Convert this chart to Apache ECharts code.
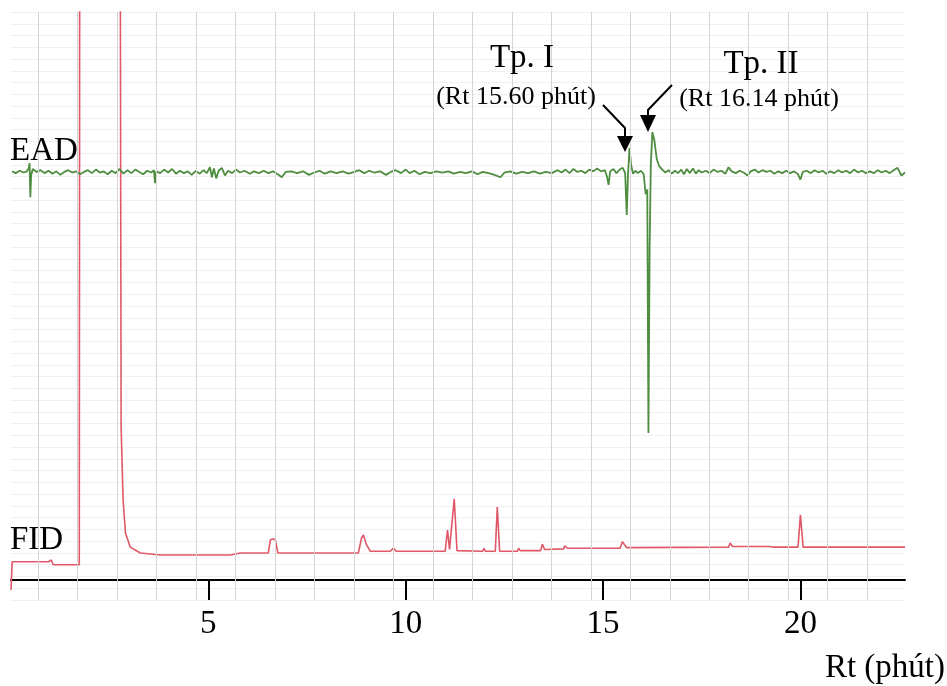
<!DOCTYPE html>
<html>
<head>
<meta charset="utf-8">
<script src="https://cdn.jsdelivr.net/npm/echarts@6/dist/echarts.min.js"></script>
<style>
html,body{margin:0;padding:0;background:#fff;}
#chart{width:947px;height:686px;}
</style>
</head>
<body>
<div id="chart"></div>
<script>
// ---- data (Rt in minutes, signal in arbitrary units) ----
const tickValues = [5, 10, 15, 20];
const axisTitle = 'Rt (phút)';
const traceNames = ['EAD', 'FID'];
const peakLabels = ['Tp. I', 'Tp. II'];
const peakRtLabels = ['(Rt 15.60 phút)', '(Rt 16.14 phút)'];

const eadTrace = [
[0.03,72.9],[0.12,72.6],[0.22,73.0],[0.32,72.7],[0.40,72.9],[0.45,73.4],[0.47,74.3],[0.49,68.5],[0.51,72.2],[0.55,73.3],
[0.65,72.8],[0.75,73.1],[0.85,72.6],[0.95,73.0],[1.05,72.5],[1.15,72.9],[1.25,72.3],[1.35,72.8],[1.45,73.1],[1.55,72.7],
[1.65,72.9],[1.75,72.4],[1.85,72.8],[1.95,73.1],[2.05,72.6],[2.15,73.2],[2.25,72.7],[2.35,72.9],[2.45,72.4],[2.55,73.0],
[2.65,72.6],[2.75,73.3],[2.85,72.5],[2.95,73.1],[3.05,72.6],[3.15,73.2],[3.25,72.8],[3.35,72.4],[3.45,73.0],[3.55,72.7],
[3.62,73.1],[3.65,70.9],[3.68,72.9],[3.78,72.6],[3.88,73.2],[3.98,72.7],[4.08,73.3],[4.18,72.5],[4.28,73.0],[4.38,72.6],
[4.48,72.9],[4.58,72.3],[4.68,73.0],[4.78,72.5],[4.88,73.1],[4.96,72.6],[5.04,73.6],[5.09,71.9],[5.14,73.4],[5.20,71.7],
[5.26,73.0],[5.34,73.5],[5.42,72.2],[5.50,73.0],[5.60,72.6],[5.70,73.2],[5.80,72.7],[5.92,73.0],[6.05,72.5],[6.15,72.9],
[6.28,72.6],[6.40,73.0],[6.52,72.6],[6.64,72.9],[6.76,72.4],[6.86,71.9],[6.96,72.8],[7.10,72.9],[7.25,72.6],[7.40,72.9],
[7.55,72.3],[7.68,72.7],[7.82,73.0],[7.95,72.5],[8.10,72.9],[8.25,72.6],[8.40,72.9],[8.55,72.5],[8.70,72.8],[8.82,73.1],
[8.95,72.6],[9.08,73.0],[9.20,72.7],[9.35,72.9],[9.50,72.3],[9.62,72.8],[9.75,73.1],[9.88,72.6],[10.00,73.2],[10.10,72.6],
[10.22,73.0],[10.35,72.4],[10.48,72.8],[10.62,72.6],[10.78,72.9],[10.92,72.7],[11.08,72.9],[11.22,72.5],[11.38,72.8],[11.52,72.6],
[11.68,72.9],[11.82,72.4],[11.95,72.8],[12.10,72.6],[12.25,72.3],[12.40,71.9],[12.50,72.7],[12.65,72.9],[12.80,72.5],[12.95,72.8],
[13.10,72.6],[13.25,72.9],[13.40,72.5],[13.55,72.8],[13.70,72.6],[13.85,73.1],[13.95,72.7],[14.05,73.2],[14.15,72.6],[14.25,73.3],
[14.35,72.8],[14.45,73.0],[14.55,72.6],[14.65,73.2],[14.75,72.9],[14.85,73.4],[14.95,72.9],[15.05,73.1],[15.10,72.0],[15.14,70.6],
[15.18,72.9],[15.26,73.3],[15.34,72.6],[15.42,73.2],[15.50,73.5],[15.56,72.6],[15.60,65.5],[15.63,72.0],[15.67,76.9],[15.71,74.0],
[15.76,72.5],[15.82,73.0],[15.88,72.6],[15.96,73.0],[16.03,72.4],[16.08,69.0],[16.12,69.8],[16.15,28.4],[16.18,60.0],[16.21,74.0],
[16.25,79.6],[16.30,78.2],[16.36,75.0],[16.42,73.8],[16.50,73.2],[16.58,72.7],[16.66,73.1],[16.74,72.5],[16.82,73.0],[16.90,72.6],
[16.98,73.2],[17.05,72.4],[17.12,73.3],[17.20,72.6],[17.28,73.4],[17.35,72.5],[17.42,73.1],[17.50,72.7],[17.60,73.0],[17.70,72.6],
[17.80,73.2],[17.90,72.8],[18.00,73.0],[18.10,72.5],[18.18,73.6],[18.26,72.9],[18.36,72.6],[18.46,73.0],[18.56,72.7],[18.66,72.2],
[18.74,72.9],[18.84,73.2],[18.94,72.7],[19.04,73.1],[19.14,72.8],[19.24,73.0],[19.34,72.5],[19.44,72.9],[19.54,72.6],[19.64,73.0],
[19.74,72.6],[19.84,72.9],[19.94,72.4],[20.00,71.5],[20.06,72.8],[20.16,73.0],[20.26,72.6],[20.36,73.1],[20.46,72.7],[20.56,73.0],
[20.66,72.5],[20.76,72.9],[20.86,72.6],[20.96,73.1],[21.06,72.7],[21.16,73.0],[21.26,72.6],[21.36,73.2],[21.46,72.7],[21.56,73.0],
[21.66,72.6],[21.76,72.9],[21.86,72.6],[21.96,73.1],[22.06,72.7],[22.16,73.0],[22.26,72.6],[22.36,73.1],[22.46,73.5],[22.56,72.2],
[22.65,72.7]
];

const fidTrace = [
[0.00,1.7],[0.03,6.5],[0.95,6.5],[1.02,6.8],[1.07,6.0],[1.73,6.0],[1.74,105],[2.77,105],[2.79,29.4],[2.84,17.0],
[2.90,11.4],[3.02,9.0],[3.28,8.0],[3.78,7.65],[5.56,7.65],[5.81,8.0],[6.52,8.0],[6.57,10.2],[6.63,10.4],[6.70,10.2],
[6.76,8.0],[8.80,8.0],[8.88,10.5],[8.93,11.05],[9.00,9.5],[9.10,8.3],[9.61,8.3],[9.69,8.8],[9.76,8.3],[11.00,8.3],
[11.06,11.9],[11.11,8.6],[11.16,8.6],[11.23,17.2],[11.30,8.4],[11.95,8.3],[11.98,8.8],[12.02,8.3],[12.27,8.3],[12.32,15.8],
[12.38,8.3],[12.83,8.3],[12.86,8.8],[12.90,8.4],[13.42,8.4],[13.46,9.5],[13.52,8.6],[14.00,8.7],[14.03,9.2],[14.10,8.8],
[15.43,8.8],[15.49,9.9],[15.60,8.9],[18.18,9.0],[18.22,9.7],[18.28,9.1],[19.20,9.1],[19.24,9.35],[19.30,9.0],[19.94,9.0],
[20.00,14.5],[20.07,9.0],[22.65,9.0]
];

// chart-paper rule offset (background decoration only)
const paperRuleOffset = 0.69;

// ---- chart ----
const serif = '"Liberation Serif", "Times New Roman", serif';
const chart = echarts.init(document.getElementById('chart'), null, {renderer: 'canvas'});

const rules = [];
for (let k = 0; k < 23; k++) { const v = k + paperRuleOffset; if (v < 22.65) rules.push({xAxis: v}); }

function txtC(s, size, x, y, align) {
  return {type: 'text', z: 100, x: x, y: y, style: {text: s, fontFamily: serif, fontSize: size, fill: '#000', stroke: null, lineWidth: 0, align: align || 'center', verticalAlign: 'middle'}};
}

const option = {
  backgroundColor: '#ffffff',
  animation: false,
  grid: {left: 11, right: 42, top: 12, bottom: 86, containLabel: false},
  xAxis: {
    type: 'value', min: 0, max: 22.65, interval: 5,
    offset: -20,
    axisLine: {show: true, lineStyle: {color: '#000', width: 2}},
    axisTick: {show: true, length: 20, inside: false, customValues: tickValues, lineStyle: {color: '#000', width: 2}},
    axisLabel: {show: true, customValues: tickValues, margin: 28, color: '#000', fontFamily: serif, fontSize: 33, lineHeight: 33},
    splitLine: {show: false}
  },
  yAxis: {
    type: 'value', min: 0, max: 100, interval: 2,
    axisLine: {show: false}, axisTick: {show: false}, axisLabel: {show: false},
    splitLine: {show: true, lineStyle: {color: '#f0f0f0', width: 1}}
  },
  series: [
    {
      type: 'line', name: 'paper', data: [], z: 1, silent: true,
      markLine: {silent: true, symbol: ['none', 'none'], label: {show: false},
        lineStyle: {color: '#d4d4d4', type: 'solid', width: 1}, data: rules, animation: false}
    },
    {
      type: 'line', name: traceNames[1], data: fidTrace, showSymbol: false, z: 3,
      lineStyle: {color: '#e05868', width: 1.6}, clip: true
    },
    {
      type: 'line', name: traceNames[0], data: eadTrace, showSymbol: false, z: 4,
      lineStyle: {color: '#4f8d40', width: 1.8}, clip: true
    }
  ],
  graphic: [
    txtC(traceNames[0], 33, 10, 151, 'left'),
    txtC(traceNames[1], 33, 10, 540, 'left'),
    txtC(peakLabels[0], 33, 522, 58),
    txtC(peakRtLabels[0], 26, 516, 97),
    txtC(peakLabels[1], 33, 761, 64),
    txtC(peakRtLabels[1], 26, 759, 99),
    txtC(axisTitle, 33, 945, 668, 'right'),
    {type: 'polyline', z: 100, shape: {points: [[603,105],[625,128],[625,138]]}, style: {stroke: '#000', lineWidth: 2, fill: null}},
    {type: 'polygon', z: 100, shape: {points: [[617,136],[633,136],[625,152]]}, style: {fill: '#000'}},
    {type: 'polyline', z: 100, shape: {points: [[672,85],[648,110],[648,117]]}, style: {stroke: '#000', lineWidth: 2, fill: null}},
    {type: 'polygon', z: 100, shape: {points: [[640,115],[656,115],[648,132]]}, style: {fill: '#000'}}
  ]
};
chart.setOption(option);
</script>
</body>
</html>
